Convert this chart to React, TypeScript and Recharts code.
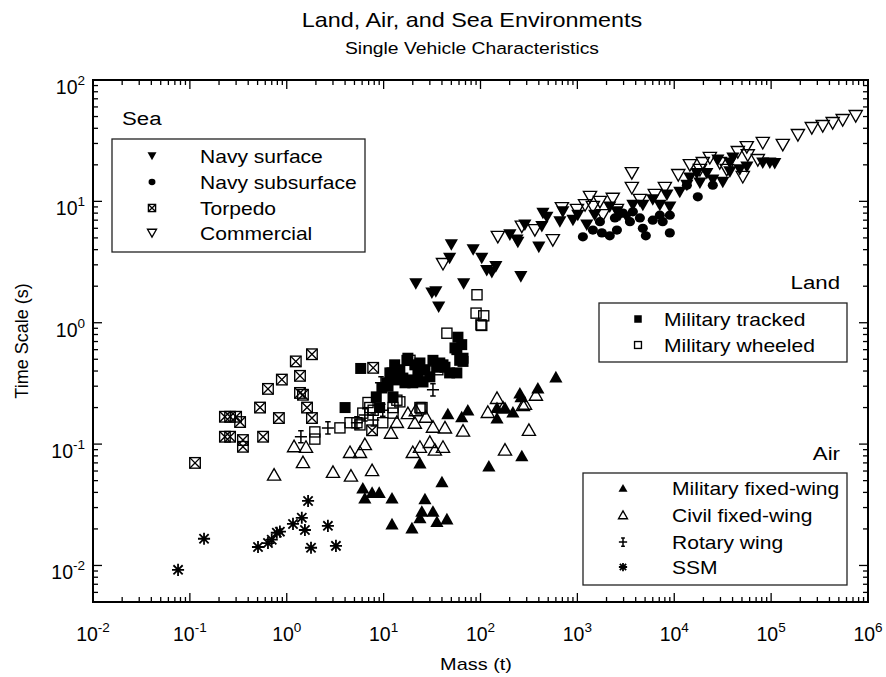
import React from 'react'
import { ScatterChart, Scatter, XAxis, YAxis, ReferenceArea } from 'recharts'

const FONT = '"Liberation Sans", Arial, Helvetica, sans-serif'

// [mass (t), time scale (s)]
const navySurface = [
  [50, 4.4], [84, 4.0], [103, 3.4], [116, 2.7], [144, 2.9], [131, 2.6], [261, 2.4], [48, 3.4],
  [21.5, 2.1], [31.5, 1.76], [34.6, 1.8], [37, 1.35], [67, 2.1], [201, 5.3], [238, 4.8], [243, 4.6],
  [400, 4.2], [441, 8.0], [430, 6.2], [484, 7.4], [708, 8.2], [900, 7.0], [1010, 7.7], [1250, 6.4],
  [2160, 9.0], [2560, 8.2], [3240, 7.4], [3740, 9.3], [4740, 9.3], [6000, 10.3], [8400, 11.3],
  [9000, 9.0], [11400, 11.9], [13500, 13.6], [17100, 17], [18400, 14.2], [21700, 17], [25000, 15],
  [31700, 14.4], [37500, 20.7], [40300, 22.8], [47500, 18.2], [56200, 19.2], [82000, 20.7],
  [97000, 20.7], [37500, 17.5], [109000, 20.5], [287, 6.4], [660, 6.8], [1510, 7.7], [2740, 7.7],
  [7100, 9.3], [14500, 15.6], [28200, 21.9],
]
const navySubsurface = [
  [1140, 5.1], [1445, 5.8], [1790, 5.5], [2160, 5.2], [2560, 5.8], [1710, 6.8], [2440, 7.3],
  [2950, 8.0], [4740, 6.0], [5090, 5.2], [6000, 7.0], [7600, 6.8], [9000, 7.7], [9000, 5.5],
  [17500, 10.9], [13500, 13.6], [25000, 13.6], [3740, 8.2], [4420, 7.3], [7100, 7.7], [3490, 6.8],
]
const torpedo = [
  [0.113, 0.07], [0.23, 0.168], [0.26, 0.168], [0.3, 0.168], [0.33, 0.152], [0.23, 0.115],
  [0.26, 0.115], [0.353, 0.108], [0.353, 0.095], [0.57, 0.115], [0.53, 0.2], [0.64, 0.285],
  [0.89, 0.34], [1.24, 0.48], [1.37, 0.365], [1.82, 0.55], [1.37, 0.264], [1.47, 0.255],
  [1.62, 0.2], [1.82, 0.164], [0.83, 0.164], [7.8, 0.425], [7.6, 0.13],
]
const commercial = [
  [151, 5.1], [41, 3.05], [267, 6.2], [364, 5.8], [558, 4.8], [692, 8.8], [990, 8.5], [1350, 10.9],
  [1445, 9.0], [1710, 9.9], [2320, 10.5], [1830, 7.7], [2560, 8.5], [3650, 17.1], [3650, 12.9],
  [8000, 12.9], [14500, 19.9], [19700, 20.7], [29500, 20.7], [34800, 18.2], [45300, 25.5],
  [56100, 28], [57400, 24], [82000, 30.3], [72900, 21.9], [132000, 29.2], [189000, 35.2],
  [51000, 15.9], [263000, 40.2], [341000, 41.8], [432000, 44.2], [548000, 46.8], [747000, 50.5],
  [1200, 9.3], [4420, 10.3], [6300, 11.3], [11000, 16.5], [18400, 18.2], [23300, 22.8],
]
const milTracked = [
  [5.8, 0.42], [4.0, 0.2], [8.4, 0.245], [9.1, 0.2], [9.6, 0.29], [11.1, 0.3], [12.2, 0.386],
  [12.5, 0.245], [13.7, 0.338], [14.7, 0.41], [15.8, 0.35], [16.6, 0.32], [17.4, 0.49], [17.8, 0.51],
  [18.7, 0.338], [20, 0.32], [22.6, 0.386], [23.7, 0.466], [25.5, 0.325], [26.7, 0.41], [30, 0.358],
  [35.5, 0.43], [41, 0.45], [38, 0.466], [43, 0.43], [48, 0.386], [57, 0.386], [58.5, 0.76],
  [54.5, 0.62], [61, 0.49], [66, 0.51], [57, 0.6], [64, 0.66], [66, 0.48], [10.8, 0.32],
  [11.6, 0.386], [32.3, 0.49], [21, 0.45], [13, 0.45],
]
const milWheeled = [
  [92, 1.7], [90, 1.2], [108, 1.14], [101, 0.96], [103, 0.95], [45, 0.82], [36.3, 0.41],
  [24.3, 0.195], [14.7, 0.223], [12.5, 0.2], [1.95, 0.126], [1.95, 0.11], [3.54, 0.136], [4.5, 0.15],
  [6.9, 0.22], [7.8, 0.19], [13.7, 0.23], [12.5, 0.18], [24.9, 0.2], [5.3, 0.15], [5.7, 0.144],
  [9.8, 0.15], [18.7, 0.49], [28, 0.4], [23.7, 0.2], [7.2, 0.2], [6.1, 0.18],
]
const milFixedWing = [
  [6.1, 0.0435], [6.4, 0.036], [7.6, 0.04], [9.0, 0.04], [12.2, 0.036], [12.2, 0.022], [19.6, 0.0204],
  [23.7, 0.0247], [24.8, 0.028], [32.3, 0.028], [35.5, 0.023], [45, 0.0242], [26.7, 0.0354],
  [40, 0.049], [23.7, 0.07], [46, 0.178], [64, 0.168], [74, 0.191], [122, 0.066], [148, 0.164],
  [148, 0.2], [179, 0.2], [216, 0.184], [255, 0.264], [262, 0.245], [391, 0.29], [600, 0.358],
  [267, 0.08],
]
const civilFixedWing = [
  [1.19, 0.096], [1.58, 0.095], [1.47, 0.071], [0.74, 0.056], [3.0, 0.059], [4.6, 0.055], [7.6, 0.061],
  [4.5, 0.086], [5.7, 0.086], [6.4, 0.1], [11.9, 0.124], [13.7, 0.152], [17.8, 0.18], [21.5, 0.19],
  [27.3, 0.168], [21, 0.15], [32.3, 0.139], [43, 0.137], [66, 0.129], [23.7, 0.095], [30, 0.104],
  [41, 0.095], [20, 0.086], [33.8, 0.09], [148, 0.24], [119, 0.184], [179, 0.09], [316, 0.131],
  [373, 0.255], [274, 0.21], [288, 0.215], [171, 0.2],
]
const rotaryWing = [
  [1.4, 0.115], [2.66, 0.136], [9.4, 0.32], [32.3, 0.28], [5.3, 0.15], [6.4, 0.174], [9.8, 0.19],
  [7.8, 0.158],
]
const ssm = [
  [0.0755, 0.0092], [0.14, 0.0166], [0.505, 0.0142], [0.64, 0.0153], [0.7, 0.0163], [0.79, 0.0186],
  [0.85, 0.019], [1.16, 0.022], [1.43, 0.0247], [1.54, 0.0196], [1.66, 0.034], [1.78, 0.014],
  [2.66, 0.0212], [3.22, 0.0145],
]

const xMajor = [0.01, 0.1, 1, 10, 100, 1000, 10000, 100000, 1000000]
const xExp = ['-2', '-1', '0', '1', '2', '3', '4', '5', '6']
const yMajor = [0.01, 0.1, 1, 10, 100]
const yExp = ['-2', '-1', '0', '1', '2']

const minorOf = (majors: number[]) =>
  majors.slice(0, -1).flatMap(m => [2, 3, 4, 5, 6, 7, 8, 9].map(k => k * m))
const xTicks = [...xMajor, ...minorOf(xMajor)]
const yTicks = [0.005, 0.006, 0.007, 0.008, 0.009, ...yMajor, ...minorOf(yMajor)]

// plot box
const L = 93, R = 868, T = 80, B = 602

const toPts = (arr: number[][]) => arr.map(([x, y]) => ({ x, y }))

type M = { cx: number; cy: number; s?: number }
const sw = 1.35
const K = 1.1 // data marker scale

const triDownPts = (cx: number, cy: number, s: number) =>
  `${cx - 6 * s},${cy - 5 * s} ${cx + 6 * s},${cy - 5 * s} ${cx},${cy + 5.5 * s}`
const triUpPts = (cx: number, cy: number, s: number) =>
  `${cx - 6 * s},${cy + 5 * s} ${cx + 6 * s},${cy + 5 * s} ${cx},${cy - 5.5 * s}`

const TriDown = ({ cx, cy, s = K }: M) => <polygon points={triDownPts(cx, cy, s)} fill="#000" />
const TriDownOpen = ({ cx, cy, s = K }: M) => (
  <polygon points={triDownPts(cx, cy, s)} fill="none" stroke="#000" strokeWidth={sw} />
)
const TriUp = ({ cx, cy, s = K }: M) => <polygon points={triUpPts(cx, cy, s)} fill="#000" />
const TriUpOpen = ({ cx, cy, s = K }: M) => (
  <polygon points={triUpPts(cx, cy, s)} fill="none" stroke="#000" strokeWidth={sw} />
)
const Dot = ({ cx, cy, s = K }: M) => <ellipse cx={cx} cy={cy} rx={4.6 * s} ry={4.2 * s} fill="#000" />
const SquareFilled = ({ cx, cy, s = K }: M) => (
  <rect x={cx - 5 * s} y={cy - 5 * s} width={10 * s} height={10 * s} fill="#000" />
)
const SquareOpen = ({ cx, cy, s = K }: M) => (
  <rect x={cx - 4.6 * s} y={cy - 4.6 * s} width={9.2 * s} height={9.2 * s} fill="none" stroke="#000" strokeWidth={sw} />
)
const Torpedo = ({ cx, cy, s = K }: M) => {
  const h = 4.8 * s
  return (
    <g fill="none" stroke="#000" strokeWidth={sw}>
      <rect x={cx - h} y={cy - h} width={2 * h} height={2 * h} />
      <path d={`M${cx - h},${cy - h}L${cx + h},${cy + h}M${cx + h},${cy - h}L${cx - h},${cy + h}`} />
    </g>
  )
}
const Rotary = ({ cx, cy, s = K }: M) => {
  const h = 5.5 * s, c = 2.5 * s
  return (
    <path
      d={`M${cx - h},${cy}H${cx + h}M${cx},${cy - h}V${cy + h}M${cx - c},${cy - h}H${cx + c}M${cx - c},${cy + h}H${cx + c}`}
      stroke="#000" strokeWidth={1.5} fill="none"
    />
  )
}
const Star = ({ cx, cy, s = K }: M) => {
  const h = 5.5 * s, d = 4.2 * s
  return (
    <path
      d={`M${cx - h},${cy}H${cx + h}M${cx},${cy - h}V${cy + h}M${cx - d},${cy - d}L${cx + d},${cy + d}M${cx + d},${cy - d}L${cx - d},${cy + d}`}
      stroke="#000" strokeWidth={1.8} fill="none"
    />
  )
}

const series = [
  { name: 'Torpedo', data: torpedo, Mark: Torpedo },
  { name: 'SSM', data: ssm, Mark: Star },
  { name: 'Civil fixed-wing', data: civilFixedWing, Mark: TriUpOpen },
  { name: 'Military fixed-wing', data: milFixedWing, Mark: TriUp },
  { name: 'Military tracked', data: milTracked, Mark: SquareFilled },
  { name: 'Military wheeled', data: milWheeled, Mark: SquareOpen },
  { name: 'Rotary wing', data: rotaryWing, Mark: Rotary },
  { name: 'Navy subsurface', data: navySubsurface, Mark: Dot },
  { name: 'Navy surface', data: navySurface, Mark: TriDown },
  { name: 'Commercial', data: commercial, Mark: TriDownOpen },
]
const markOf = (name: string) => series.find(s => s.name === name)!.Mark

const seaLegend = ['Navy surface', 'Navy subsurface', 'Torpedo', 'Commercial']
const landLegend = ['Military tracked', 'Military wheeled']
const airLegend = ['Military fixed-wing', 'Civil fixed-wing', 'Rotary wing', 'SSM']

const isMajor = (v: number, majors: number[]) => majors.findIndex(m => Math.abs(v / m - 1) < 1e-6)

const XTick = (props: any) => {
  const { x, payload } = props
  const i = isMajor(payload.value, xMajor)
  const len = i >= 0 ? 9 : 5
  return (
    <g>
      <line x1={x} y1={B} x2={x} y2={B - len} stroke="#000" strokeWidth={1.3} />
      <line x1={x} y1={T} x2={x} y2={T + len} stroke="#000" strokeWidth={1.3} />
      {i >= 0 && (
        <text x={x} y={B + 39} textAnchor="middle" fontFamily={FONT} fontSize={19.5} fill="#000">
          10<tspan dy={-9} fontSize={13.5}>{xExp[i]}</tspan>
        </text>
      )}
    </g>
  )
}

const YTick = (props: any) => {
  const { y, payload } = props
  const i = isMajor(payload.value, yMajor)
  const len = i >= 0 ? 9 : 5
  return (
    <g>
      <line x1={L} y1={y} x2={L + len} y2={y} stroke="#000" strokeWidth={1.3} />
      <line x1={R} y1={y} x2={R - len} y2={y} stroke="#000" strokeWidth={1.3} />
      {i >= 0 && (
        <text x={L - 8} y={y + 14} textAnchor="end" fontFamily={FONT} fontSize={19.5} fill="#000">
          10<tspan dy={-9} fontSize={13.5}>{yExp[i]}</tspan>
        </text>
      )}
    </g>
  )
}

const SX = 1.17

const Txt = ({ x, y, size, anchor = 'start', children }: any) => (
  <text transform={`translate(${x},${y}) scale(${SX},1)`} textAnchor={anchor} fontFamily={FONT} fontSize={size} fill="#000">
    {children}
  </text>
)

const LegendBox = ({ box, rows, markX, textX, rowYs }: any) => (
  <g>
    <rect x={box[0]} y={box[1]} width={box[2]} height={box[3]} fill="#fff" stroke="#222" strokeWidth={1.3} />
    {rows.map((name: string, i: number) => {
      const Mark = markOf(name)
      return (
        <g key={name}>
          <Mark cx={markX} cy={rowYs[i]} s={0.75} />
          <Txt x={textX} y={rowYs[i] + 6.5} size={18}>{name}</Txt>
        </g>
      )
    })}
  </g>
)

export default function App() {
  return (
    <div style={{ position: 'fixed', left: 0, top: 0, width: 886, height: 677, background: '#fff' }}>
      <ScatterChart width={886} height={677} margin={{ top: 80, right: 18, bottom: 25, left: 33 }}>
        <XAxis
          type="number" dataKey="x" scale="log" domain={[0.01, 1000000]} allowDataOverflow
          ticks={xTicks} interval={0} tick={<XTick />} tickLine={false} axisLine={false}
          tickSize={0} tickMargin={0} height={50}
        />
        <YAxis
          type="number" dataKey="y" scale="log" domain={[0.005, 100]} allowDataOverflow
          ticks={yTicks} interval={0} tick={<YTick />} tickLine={false} axisLine={false}
          tickSize={0} tickMargin={0} width={60}
        />
        {series.map(s => (
          <Scatter
            key={s.name} name={s.name} data={toPts(s.data)} isAnimationActive={false}
            shape={(p: any) => <s.Mark cx={p.cx} cy={p.cy} />}
          />
        ))}
        <ReferenceArea x1={0.01} x2={1000000} y1={0.005} y2={100} fill="none" stroke="#000" strokeWidth={2} ifOverflow="visible" />
      </ScatterChart>
      <svg width={886} height={677} style={{ position: 'absolute', left: 0, top: 0, pointerEvents: 'none' }}>
        <Txt x={472} y={27} size={20} anchor="middle">Land, Air, and Sea Environments</Txt>
        <Txt x={472} y={54} size={16.5} anchor="middle">Single Vehicle Characteristics</Txt>
        <Txt x={476} y={670} size={17} anchor="middle">Mass (t)</Txt>
        <text transform="translate(28,341) rotate(-90)" textAnchor="middle" fontFamily={FONT} fontSize={18} fill="#000">
          Time Scale (s)
        </text>

        <Txt x={122} y={125} size={19}>Sea</Txt>
        <LegendBox box={[112, 139, 253, 113]} rows={seaLegend} markX={152} textX={200} rowYs={[156, 182, 208, 233]} />

        <Txt x={840} y={289} size={19} anchor="end">Land</Txt>
        <LegendBox box={[599, 303, 248, 59]} rows={landLegend} markX={638} textX={664} rowYs={[319, 345]} />

        <Txt x={840} y={460} size={19} anchor="end">Air</Txt>
        <LegendBox box={[583, 473, 264, 112]} rows={airLegend} markX={623} textX={672} rowYs={[488, 515, 542, 567]} />
      </svg>
    </div>
  )
}
